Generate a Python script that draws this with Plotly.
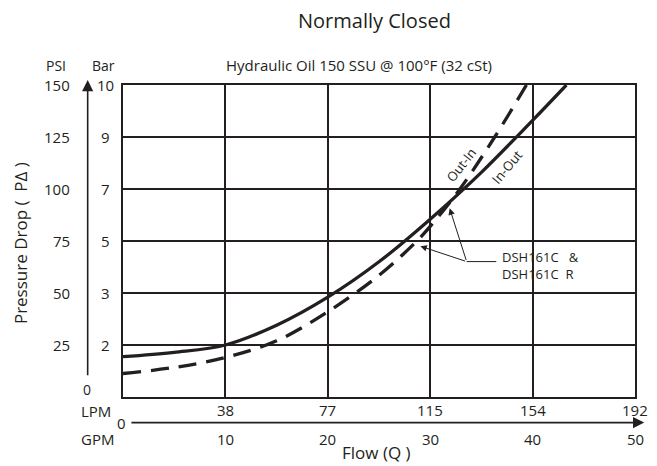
import plotly.graph_objects as go

# ---- data ----
flow_in_out = [0, 5, 10, 15, 20, 25, 30, 35, 40, 43.3]
psi_in_out = [19.4, 21.5, 25, 34.5, 48, 65, 85.5, 108, 133, 150]

flow_out_in = [0, 5, 10, 15, 20, 25, 28.5, 30, 32.9, 36.3, 39.4]
psi_out_in = [11.3, 14.2, 19, 27, 41, 58.5, 74, 82, 100, 125, 150]

gpm_ticks = [10, 20, 30, 40, 50]
lpm_labels = ["38", "77", "115", "154", "192"]
psi_ticks = [25, 50, 75, 100, 125, 150]
bar_labels = ["2", "3", "5", "7", "9", "10"]

INK = "#231f20"
FONT = "Open Sans"

fig = go.Figure()
fig.add_trace(go.Scatter(x=flow_in_out, y=psi_in_out, mode="lines",
                         line=dict(color=INK, width=3.3, shape="spline", smoothing=1.0),
                         name="In-Out", showlegend=False))
fig.add_trace(go.Scatter(x=flow_out_in, y=psi_out_in, mode="lines",
                         line=dict(color=INK, width=3.3, shape="spline", smoothing=1.0, dash="18px,10px"),
                         name="Out-In", showlegend=False))

ann = []
def txt(text, x, y, size=14, xref="paper", yref="paper", xanchor="center", yanchor="middle", angle=0, align="center"):
    ann.append(dict(text=text, x=x, y=y, xref=xref, yref=yref, xanchor=xanchor, yanchor=yanchor,
                    showarrow=False, textangle=angle, align=align,
                    font=dict(family=FONT, size=size, color=INK)))

# titles
txt("Normally Closed", 0.4918, 1.206, size=20)
txt("Hydraulic Oil 150 SSU @ 100°F (32 cSt)", 0.4606, 1.064, size=15)
txt("PSI", -0.130, 1.064, size=14)
txt("Bar", -0.0374, 1.064, size=14)

# left tick columns
for p, b in zip(psi_ticks, bar_labels):
    txt(str(p), -0.100, p, size=15, yref="y", xanchor="right")
    txt(b, -0.035, p, size=15, yref="y")
txt("0", -0.0702, 0.024, size=14)

# bottom tick rows
for g, l in zip(gpm_ticks, lpm_labels):
    txt(l, g, -0.0425, size=15, xref="x")
    txt(str(g), g, -0.1335, size=15, xref="x")
txt("LPM", -0.0526, -0.046, size=15)
txt("GPM", -0.0507, -0.1335, size=15)
txt("0", -0.0033, -0.082, size=15)

# axis titles
txt("Flow (Q )", 0.496, -0.177, size=17)
txt("Pressure Drop (  PΔ )", -0.200, 0.492, size=17, angle=-90)

# curve labels
txt("Out-In", 33.1, 111.8, size=13, xref="x", yref="y", angle=-52)
txt("In-Out", 37.5, 110.4, size=13, xref="x", yref="y", angle=-50)
txt("DSH161C   &<br>DSH161C  R", 36.8, 63.0, size=13, xref="x", yref="y", xanchor="left", align="left")

# axis arrows
ann.append(dict(x=-0.069, y=1.016, xref="paper", yref="paper", ax=0, ay=296.7, text="",
                showarrow=True, arrowhead=2, arrowsize=1.4, arrowwidth=1.6, arrowcolor=INK, standoff=0))
ann.append(dict(x=1.018, y=-0.082, xref="paper", yref="paper", ax=-514.3, ay=0, text="",
                showarrow=True, arrowhead=2, arrowsize=1.4, arrowwidth=1.6, arrowcolor=INK, standoff=0))

# leader arrows to the curves
tail_x, tail_y = 33.56, 65.1
for hx, hy in [(31.9, 90.7), (29.04, 72.5)]:
    ann.append(dict(x=hx, y=hy, xref="x", yref="y", ax=tail_x, ay=tail_y, axref="x", ayref="y",
                    text="", showarrow=True, arrowhead=2, arrowsize=1.3, arrowwidth=1,
                    arrowcolor=INK, standoff=0))

fig.add_shape(type="line", x0=tail_x, y0=tail_y, x1=36.45, y1=tail_y, xref="x", yref="y",
              line=dict(color=INK, width=1))

# page body has an 8px margin, so the figure is 8px smaller to fit the 657x466 window
fig.update_layout(
    width=649, height=458,
    margin=dict(l=115, r=22, t=77, b=69, pad=0),
    paper_bgcolor="white", plot_bgcolor="white",
    annotations=ann,
    xaxis=dict(range=[0, 50], tickvals=[10, 20, 30, 40], showticklabels=False, ticks="",
               showgrid=True, gridcolor=INK, gridwidth=1.5, zeroline=False,
               showline=True, linecolor=INK, linewidth=1.8, mirror=True, fixedrange=True),
    yaxis=dict(range=[0, 150], tickvals=[25, 50, 75, 100, 125], showticklabels=False, ticks="",
               showgrid=True, gridcolor=INK, gridwidth=1.5, zeroline=False,
               showline=True, linecolor=INK, linewidth=1.8, mirror=True, fixedrange=True),
    showlegend=False,
)

fig.write_html("out.html")
